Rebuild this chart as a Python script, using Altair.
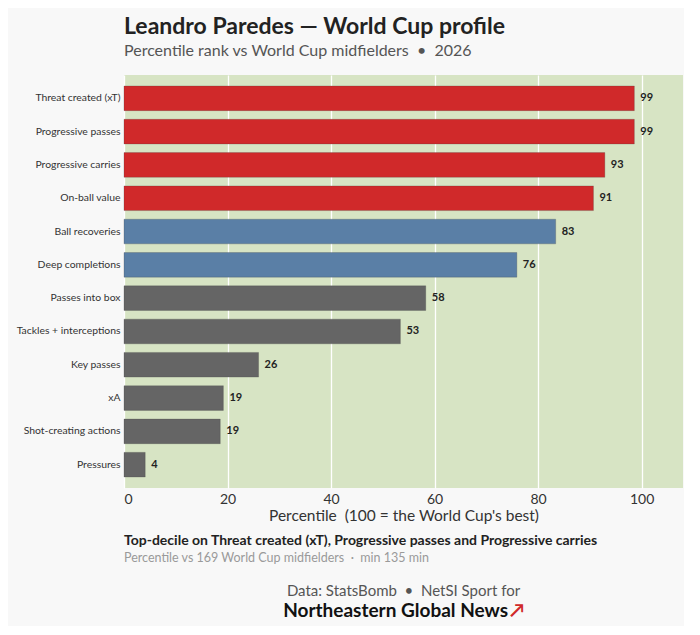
import altair as alt
import pandas as pd

# ---- data ----
metrics = [
    "Threat created (xT)", "Progressive passes", "Progressive carries",
    "On-ball value", "Ball recoveries", "Deep completions", "Passes into box",
    "Tackles + interceptions", "Key passes", "xA", "Shot-creating actions",
    "Pressures",
]
percentiles = [98.6, 98.6, 92.9, 90.7, 83.4, 75.9, 58.3, 53.4, 26.0, 19.2, 18.6, 4.1]
tiers = ["elite"] * 4 + ["strong"] * 2 + ["other"] * 6
tier_names = ["elite", "strong", "other"]
tier_colors = ["#d0292a", "#5a7fa6", "#656565"]
x_ticks = [0, 20, 40, 60, 80, 100]

NB = "\u00a0"
title_text = "Leandro Paredes \u2014 World Cup profile"
subtitle_text = f"Percentile rank vs World Cup midfielders {NB}\u2022{NB} 2026"
x_title = f"Percentile {NB}(100 = the World Cup's best)"
note_bold = ["Top-decile on Threat created (xT), Progressive passes and Progressive carries"]
note_grey = [f"Percentile vs 169 World Cup midfielders {NB}\u00b7{NB} min 135 min"]
credit_line = [f"Data: StatsBomb {NB}\u2022{NB} NetSI Sport for"]
brand_line = ["Northeastern Global News"]
brand_arrow = ["\u2197"]

df = pd.DataFrame({"metric": metrics, "pct": percentiles, "tier": tiers})

W, H = 559, 413
FONT = "Lato"

y_enc = alt.Y(
    "metric:N", sort=metrics, title=None,
    scale=alt.Scale(paddingInner=0.26, paddingOuter=0.33),
    axis=alt.Axis(labelFont=FONT, labelFontSize=10.4, labelColor="#333",
                  ticks=False, domain=False, labelPadding=4,
                  minExtent=112, maxExtent=112, grid=False),
)
x_enc = alt.X(
    "pct:Q", title=x_title,
    scale=alt.Scale(domain=[0, 108], nice=False),
    axis=alt.Axis(values=x_ticks, labelFont=FONT, labelFontSize=14,
                  labelColor="#333", ticks=False, domain=False, labelPadding=4,
                  titleFont=FONT, titleFontSize=15.5, titleFontWeight="normal",
                  titleColor="#333", titlePadding=2, grid=True,
                  gridColor="white", gridWidth=1.3),
)

bars = alt.Chart(df).mark_bar(stroke="#444", strokeOpacity=0.25, strokeWidth=1).encode(
    x=x_enc, y=y_enc,
    color=alt.Color("tier:N", scale=alt.Scale(domain=tier_names, range=tier_colors), legend=None),
)

labels = alt.Chart(df).mark_text(
    align="left", baseline="middle", dx=6, font=FONT, fontSize=11,
    fontWeight="bold", color="#222",
).encode(
    x="pct:Q", y=alt.Y("metric:N", sort=metrics),
    text=alt.Text("pct:Q", format=".0f"),
)

def line(data, **kw):
    return alt.Chart(pd.DataFrame({"t": data})).mark_text(font=FONT, baseline="middle", **kw)

n1 = line(note_bold, align="left", fontSize=14, fontWeight="bold", color="#222").encode(
    text="t:N", x=alt.value(0), y=alt.value(H + 53))
n2 = line(note_grey, align="left", fontSize=12.5, color="#9a9a9a").encode(
    text="t:N", x=alt.value(0), y=alt.value(H + 70))
c1 = line(credit_line, align="center", fontSize=15, color="#555").encode(
    text="t:N", x=alt.value(W / 2), y=alt.value(H + 103))
c2 = line(brand_line, align="right", fontSize=19, fontWeight="bold", color="#111").encode(
    text="t:N", x=alt.value(384), y=alt.value(H + 123))
c3 = line(brand_arrow, align="left", fontSize=19, fontWeight="bold", color="#d0292a").encode(
    text="t:N", x=alt.value(386), y=alt.value(H + 123))

chart = alt.layer(bars, labels, n1, n2, c1, c2, c3).properties(
    width=W, height=H,
    padding={"left": 4, "top": 8, "right": 1, "bottom": 5},
    background="#f8f8f8",
    title=alt.TitleParams(
        text=title_text, subtitle=subtitle_text, anchor="start", frame="group",
        font=FONT, fontSize=23, fontWeight="bold", color="#222",
        subtitleFont=FONT, subtitleFontSize=16, subtitleColor="#555",
        subtitlePadding=4, offset=16,
    ),
).configure_view(fill="#d7e4c4", stroke=None)

chart.save("out.html", embed_options={"renderer": "svg", "actions": False})
